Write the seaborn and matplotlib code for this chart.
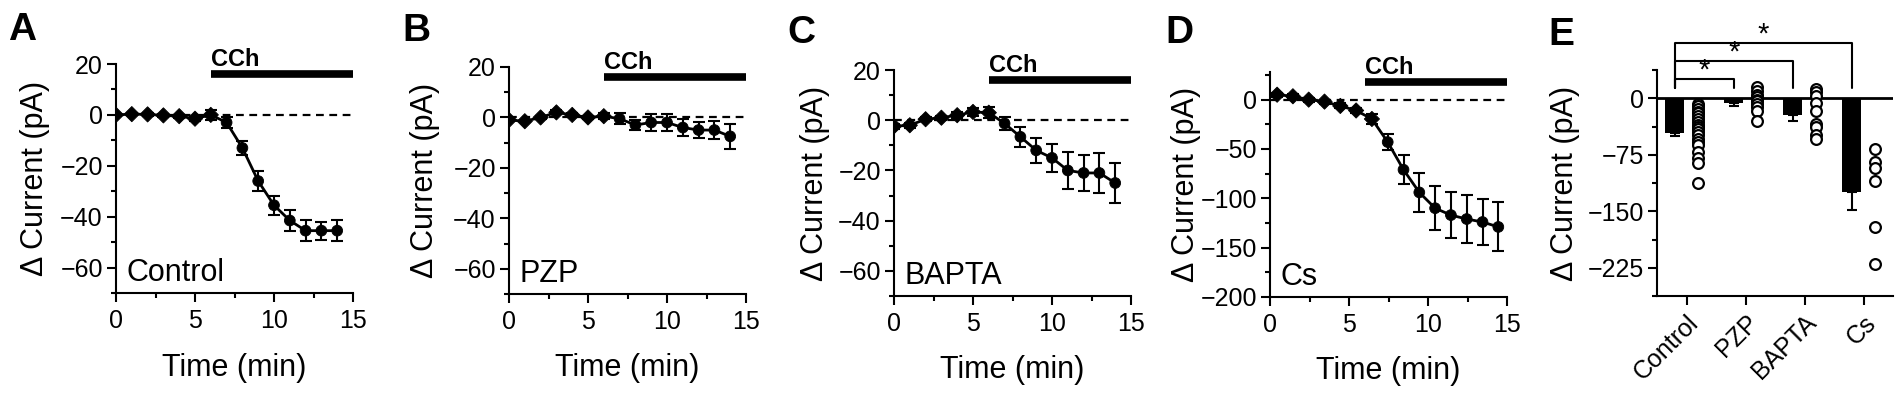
import numpy as np
import pandas as pd
import matplotlib
matplotlib.use('Agg')
import matplotlib.pyplot as plt
import matplotlib.transforms as mtransforms
from matplotlib.ticker import MultipleLocator
import seaborn as sns

# time course data (mean, sem)
time_min = [0, 1, 2, 3, 4, 5, 6, 7, 8, 9, 10, 11, 12, 13, 14]
time_cs = [0.45, 1.45, 2.45, 3.45, 4.45, 5.45, 6.45, 7.45, 8.45, 9.45, 10.45, 11.45, 12.45, 13.45, 14.45]

control_mean = [0, 0.3, 0.2, -0.2, -0.5, -1.5, 0, -3, -13, -26, -35.5, -41.5, -45.5, -45.5, -45.5]
control_sem = [0.5, 0.5, 0.5, 0.5, 0.6, 0.8, 2, 2.1, 2.8, 3.8, 3.8, 4, 4.2, 3.6, 4]

pzp_mean = [-1, -1.5, 0, 2, 1, 0, 0.5, -0.5, -3, -2, -2, -4, -5, -5, -7.5]
pzp_sem = [0.5, 0.5, 0.5, 0.8, 0.6, 0.6, 1.3, 2.1, 2, 3.3, 3.5, 3.5, 3.1, 3.4, 4.9]

bapta_mean = [-2.4, -2, 0.4, 1, 2, 3.3, 3, -1.3, -6.6, -12, -15, -20, -21, -21, -25]
bapta_sem = [1, 1, 0.8, 0.8, 1.2, 1.7, 2.3, 2.5, 3.9, 5, 5.6, 7.2, 7.3, 7.8, 8]

cs_mean = [5, 3.4, 0, -2, -6.4, -11, -19.6, -43, -71, -94, -110, -117, -121, -124, -129]
cs_sem = [2, 2, 2, 2, 2.5, 3, 5, 8.5, 14.6, 20, 22.5, 23.5, 24.3, 23.5, 24.8]

n_baseline = 7          # points before CCh drawn as diamonds
cch_start, cch_end = 6, 15

# summary data (panel E)
groups = ['Control', 'PZP', 'BAPTA', 'Cs']
bar_mean = [-46, -5.7, -22.4, -125]
bar_sem = [4, 4, 7.5, 24]
control_pts = [-7.7, -10.7, -14, -17.8, -20, -23, -27.4, -31.8, -36, -38, -40.5, -45, -49,
               -53.7, -58, -62.5, -71, -79, -86.6, -113]
pzp_pts = [15, 9, 4, 1, -2, -4, -8, -12, -17, -30]
bapta_pts = [12, 8.5, 3.3, -6.3, -16.4, -34, -38.4, -48.4, -54.6]
cs_pts = [-67.8, -85, -93, -110, -171, -219.5]
sig_pairs = [(0, 1), (0, 2), (0, 3)]
sig_heights = [25, 49, 73]

sns.set_theme(style='ticks')
plt.rcParams['font.family'] = ['Liberation Sans', 'DejaVu Sans']
plt.rcParams['axes.unicode_minus'] = True
plt.rcParams['axes.edgecolor'] = 'black'
plt.rcParams['axes.linewidth'] = 1.5
plt.rcParams['xtick.color'] = 'black'
plt.rcParams['ytick.color'] = 'black'
plt.rcParams['text.color'] = 'black'
plt.rcParams['axes.labelcolor'] = 'black'

W, H = 1902, 397
fig = plt.figure(figsize=(W / 100, H / 100), dpi=100)


def px_rect(left, right, top, bottom):
    return [left / W, 1 - bottom / H, (right - left) / W, (bottom - top) / H]


def style_axes(ax):
    sns.despine(ax=ax)
    ax.tick_params(which='major', direction='out', length=6.5, width=1.5, labelsize=18)
    ax.tick_params(which='minor', direction='out', length=3.5, width=1.5)
    ax.tick_params(axis='x', which='major', pad=5)
    ax.tick_params(axis='y', which='major', pad=3)


def time_panel(ax, t, mean, sem, name, ylim, major, minor, ylab_x):
    df = pd.DataFrame({'t': t, 'mean': mean, 'sem': sem})
    df['phase'] = ['pre' if i < n_baseline else 'post' for i in range(len(df))]
    ax.axhline(0, ls=(0, (3.5, 2.5)), color='black', lw=1.6, zorder=1)
    ax.errorbar(df['t'], df['mean'], yerr=df['sem'], fmt='none', ecolor='black',
                elinewidth=1.5, capsize=4.5, capthick=1.5, zorder=2)
    sns.lineplot(data=df, x='t', y='mean', color='black', lw=2, errorbar=None, ax=ax, zorder=3)
    sns.scatterplot(data=df, x='t', y='mean', style='phase', markers={'pre': 'D', 'post': 'o'},
                    color='black', edgecolor='black', s=60, legend=False, ax=ax, zorder=4)
    ax.set_xlim(0, 15)
    ax.set_ylim(*ylim)
    ax.xaxis.set_major_locator(MultipleLocator(5))
    ax.xaxis.set_minor_locator(MultipleLocator(2.5))
    ax.yaxis.set_major_locator(MultipleLocator(major))
    ax.yaxis.set_minor_locator(MultipleLocator(minor))
    style_axes(ax)
    ax.set_xlabel('Time (min)', fontsize=22)
    ax.set_ylabel('\u0394 Current (pA)', fontsize=22)
    ax.xaxis.set_label_coords(0.5, -0.26)
    ax.yaxis.set_label_coords(ylab_x, 0.5)
    # CCh application bar
    trans = mtransforms.blended_transform_factory(ax.transData, ax.transAxes)
    ax.plot([cch_start, cch_end], [0.955, 0.955], color='black', lw=5.5,
            solid_capstyle='butt', transform=trans, clip_on=False)
    ax.text(cch_start, 0.99, 'CCh', fontsize=17, fontweight='bold', ha='left',
            va='baseline', transform=trans)
    ax.text(0.045, 0.052, name, fontsize=22, ha='left', va='baseline', transform=ax.transAxes)


axA = fig.add_axes(px_rect(116, 353, 64, 293))
time_panel(axA, time_min, control_mean, control_sem, 'Control', (-70, 20), 20, 10, -0.28)
axB = fig.add_axes(px_rect(509, 746, 67, 294))
time_panel(axB, time_min, pzp_mean, pzp_sem, 'PZP', (-70, 20), 20, 10, -0.29)
axC = fig.add_axes(px_rect(894, 1131, 70, 296))
time_panel(axC, time_min, bapta_mean, bapta_sem, 'BAPTA', (-70, 20), 20, 10, -0.27)
axD = fig.add_axes(px_rect(1270, 1507, 72, 297))
time_panel(axD, time_cs, cs_mean, cs_sem, 'Cs', (-200, 28), 50, 25, -0.29)

# panel E: bars with individual cells
axE = fig.add_axes(px_rect(1657, 1893, 70, 296))
pos = np.arange(len(groups))
axE.axhline(0, color='black', lw=2, zorder=1)
axE.bar(pos - 0.2, bar_mean, width=0.32, color='black', edgecolor='black', linewidth=0,
        zorder=2, yerr=[bar_sem, [0] * len(bar_sem)], capsize=3.5,
        error_kw=dict(elinewidth=1.5, capthick=1.5, ecolor='black'))
pts = pd.DataFrame({
    'group': np.repeat(groups, [len(control_pts), len(pzp_pts), len(bapta_pts), len(cs_pts)]),
    'value': control_pts + pzp_pts + bapta_pts + cs_pts,
})
pts['x'] = pts['group'].map({g: i for i, g in enumerate(groups)}) + 0.2
sns.scatterplot(data=pts, x='x', y='value', marker='o', s=60, facecolor='white',
                edgecolor='black', linewidth=1.6, legend=False, ax=axE, zorder=3)
axE.set_xlim(-0.5, 3.5)
axE.set_ylim(-262.5, 37.5)
axE.yaxis.set_major_locator(MultipleLocator(75))
axE.yaxis.set_minor_locator(MultipleLocator(37.5))
axE.set_xticks(pos)
axE.set_xticklabels(groups, rotation=45, ha='right', rotation_mode='anchor')
style_axes(axE)
axE.tick_params(axis='x', which='major', pad=4)
axE.set_xlabel('')
axE.set_ylabel('\u0394 Current (pA)', fontsize=22)
axE.yaxis.set_label_coords(-0.325, 0.5)

for (a, b), h in zip(sig_pairs, sig_heights):
    xa, xb = a - 0.2, b - 0.2
    axE.plot([xa, xa, xb, xb], [13, h, h, 13], color='black', lw=1.5, clip_on=False)
    axE.text((xa + xb) / 2, h - 7, '*', fontsize=21, ha='center', va='bottom')

for letter, x, y in [('A', 8, 12), ('B', 402, 13), ('C', 787, 15), ('D', 1165, 15), ('E', 1548, 17)]:
    fig.text(x / W, 1 - y / H, letter, fontsize=28, fontweight='bold', ha='left', va='top')

fig.savefig('out.png', dpi=100)
